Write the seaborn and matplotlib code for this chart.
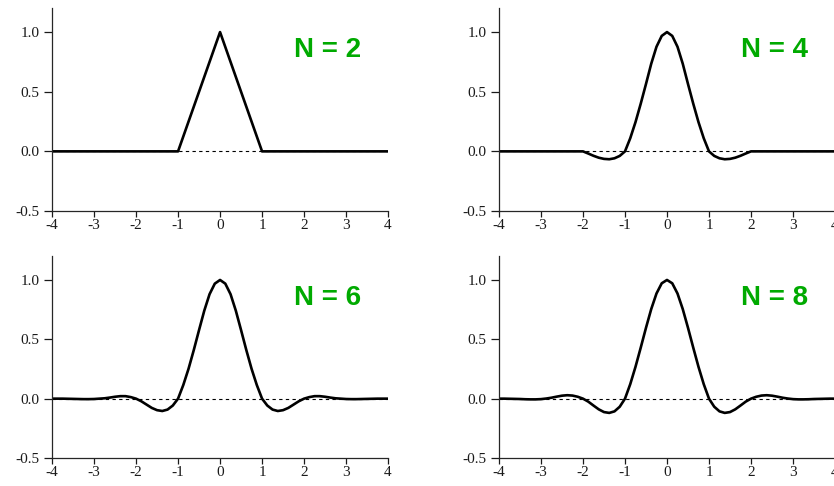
import numpy as np
import matplotlib
matplotlib.use('Agg')
import matplotlib.pyplot as plt
import seaborn as sns

# sample points (x) and kernel values
x_tri = [-4, -1, 0, 1, 4]
y_n2 = [0, 0, 1, 0, 0]

x_grid = [-4.0, -3.875, -3.75, -3.625, -3.5, -3.375, -3.25, -3.125,
          -3.0, -2.875, -2.75, -2.625, -2.5, -2.375, -2.25, -2.125,
          -2.0, -1.875, -1.75, -1.625, -1.5, -1.375, -1.25, -1.125,
          -1.0, -0.875, -0.75, -0.625, -0.5, -0.375, -0.25, -0.125,
          0.0,
          0.125, 0.25, 0.375, 0.5, 0.625, 0.75, 0.875, 1.0,
          1.125, 1.25, 1.375, 1.5, 1.625, 1.75, 1.875, 2.0,
          2.125, 2.25, 2.375, 2.5, 2.625, 2.75, 2.875, 3.0,
          3.125, 3.25, 3.375, 3.5, 3.625, 3.75, 3.875, 4.0]

y_n4 = [0, 0, 0, 0, 0, 0, 0, 0,
        0, 0, 0, 0, 0, 0, 0, 0,
        0, -0.018, -0.037, -0.053, -0.063, -0.066, -0.058, -0.038,
        0, 0.11, 0.245, 0.40, 0.565, 0.735, 0.877, 0.968,
        1.0,
        0.968, 0.877, 0.735, 0.565, 0.40, 0.245, 0.11, 0,
        -0.038, -0.058, -0.066, -0.063, -0.053, -0.037, -0.018, 0,
        0, 0, 0, 0, 0, 0, 0, 0,
        0, 0, 0, 0, 0, 0, 0, 0]

y_n6 = [0, 0, 0, -0.001, -0.002, -0.003, -0.004, -0.004,
        -0.003, 0, 0.003, 0.009, 0.016, 0.021, 0.021, 0.013,
        0, -0.022, -0.05, -0.078, -0.097, -0.104, -0.092, -0.058,
        0, 0.115, 0.252, 0.41, 0.578, 0.742, 0.88, 0.969,
        1.0,
        0.969, 0.88, 0.742, 0.578, 0.41, 0.252, 0.115, 0,
        -0.058, -0.092, -0.104, -0.097, -0.078, -0.05, -0.022, 0,
        0.013, 0.021, 0.021, 0.016, 0.009, 0.003, 0, -0.003,
        -0.004, -0.004, -0.003, -0.002, -0.001, 0, 0, 0]

y_n8 = [0, 0, -0.001, -0.002, -0.003, -0.005, -0.006, -0.006,
        -0.004, 0.001, 0.008, 0.017, 0.025, 0.029, 0.026, 0.016,
        0, -0.025, -0.058, -0.09, -0.113, -0.12, -0.107, -0.068,
        0, 0.122, 0.268, 0.43, 0.597, 0.755, 0.886, 0.972,
        1.0,
        0.972, 0.886, 0.755, 0.597, 0.43, 0.268, 0.122, 0,
        -0.068, -0.107, -0.12, -0.113, -0.09, -0.058, -0.025, 0,
        0.016, 0.026, 0.029, 0.025, 0.017, 0.008, 0.001, -0.004,
        -0.006, -0.006, -0.005, -0.003, -0.002, -0.001, 0, 0]

panels = [(2, x_tri, y_n2), (4, x_grid, y_n4), (6, x_grid, y_n6), (8, x_grid, y_n8)]
x_ticks = [-4, -3, -2, -1, 0, 1, 2, 3, 4]
y_ticks = [-0.5, 0.0, 0.5, 1.0]
y_labels = ['-0.5', '0.0', '0.5', '1.0']

sns.set_style('ticks')
plt.rcParams['font.family'] = ['Liberation Serif', 'DejaVu Serif']
plt.rcParams['axes.unicode_minus'] = False

fig = plt.figure(figsize=(8.34, 4.86), dpi=100)
boxes = [[0.0624, 0.5658, 0.4029, 0.4173],
         [0.5983, 0.5658, 0.4029, 0.4173],
         [0.0624, 0.0576, 0.4029, 0.4152],
         [0.5983, 0.0576, 0.4029, 0.4152]]

for (n, xs, ys), box in zip(panels, boxes):
    ax = fig.add_axes(box)
    ax.axhline(0, color='black', lw=0.8, ls=(0, (3, 3)), zorder=1)
    sns.lineplot(x=xs, y=ys, ax=ax, color='black', lw=1.9, estimator=None,
                 solid_joinstyle='round', zorder=2)
    ax.set_xlim(-4, 4)
    ax.set_ylim(-0.5, 1.2)
    ax.set_xticks(x_ticks)
    ax.set_xticklabels([str(t) for t in x_ticks])
    ax.set_yticks(y_ticks)
    ax.set_yticklabels(y_labels)
    sns.despine(ax=ax)
    for s in ['left', 'bottom']:
        ax.spines[s].set_linewidth(0.9)
    ax.tick_params(axis='x', length=4.5, width=0.9, pad=1.5, labelsize=11, colors='#1a1a1a')
    ax.tick_params(axis='y', length=6, width=0.9, pad=3, labelsize=11, colors='#1a1a1a')
    ax.text(3.36, 0.79, f'N = {n}', color='#00AA00', fontsize=20, fontweight='bold',
            family=['Liberation Sans', 'DejaVu Sans'], ha='right', va='baseline')

fig.savefig('out.png', dpi=100)
